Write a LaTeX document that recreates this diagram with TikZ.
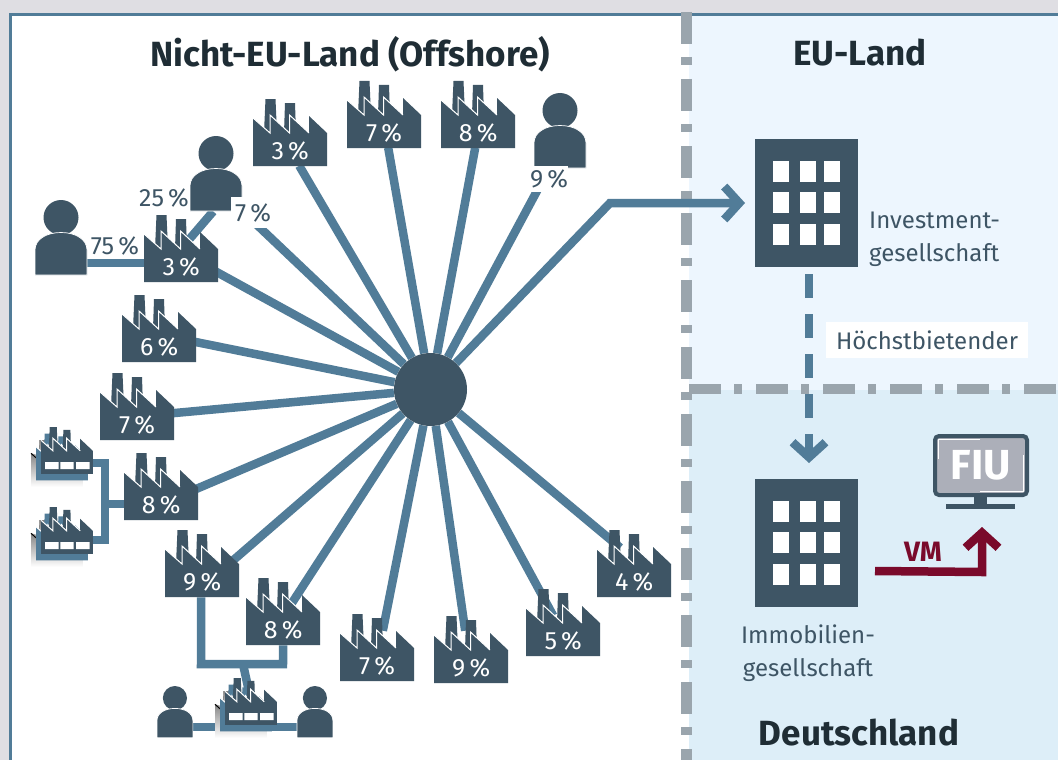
\documentclass[tikz,border=0pt]{standalone}
\usepackage{fontspec}
\setmainfont{Fira Sans}
\usetikzlibrary{arrows.meta,backgrounds}
\definecolor{dark}{HTML}{3E5565}
\definecolor{steel}{HTML}{517C98}
\definecolor{shade}{HTML}{AEB8C7}
\definecolor{maroon}{HTML}{7A0A2B}
\definecolor{border}{HTML}{9AA5AD}
\definecolor{ink}{HTML}{1F2D35}
\definecolor{eupanel}{HTML}{EDF6FE}
\definecolor{depanel}{HTML}{DDEEF8}
\definecolor{margin}{HTML}{DFDEE3}
\definecolor{screen}{HTML}{ACAFB9}
\tikzset{x=1pt, y=-1pt,
  spoke/.style={steel, line width=8.5pt},
  link/.style={steel, line width=8.5pt, line join=miter},
  sep/.style={border, line width=10.5pt, dash pattern=on 32pt off 13pt on 8pt off 14pt},
  chevron/.style={-{Straight Barb[length=15pt, width=33pt, line width=8.5pt]}},
  title/.style={font=\fontsize{35}{35}\selectfont\bfseries, text=ink},
  pct/.style={font=\fontsize{25}{25}\selectfont, text=dark, inner sep=0pt},
  note/.style={font=\fontsize{24}{33}\selectfont, text=dark, inner sep=0pt},
  plantbox/.style={anchor=north west, inner sep=0pt, minimum width=74pt, text height=60pt, text depth=7pt, text=white, font=\fontsize{25}{25}\selectfont},
}
\newcommand{\plantshape}[2]{
  \fill[#1] (12.5,0) -- (22.5,0) -- (24,34) -- (11,34) -- cycle;
  \fill[#1] (32,4) -- (42,4) -- (43,34) -- (31,34) -- cycle;
  \fill[#1] (0,19) -- (17,34) -- (17,16) -- (36.5,34) -- (36.5,16) -- (56,34) -- (56,17) -- (74,34) -- (74,67) -- (0,67) -- cycle;
  \draw[#2, line width=1pt] (0,19) -- (17,34) -- (17,16) -- (36.5,34) -- (36.5,16) -- (56,34);
}
\newcommand{\plant}[4]{
  \begin{scope}[shift={(#2,#3)}] \plantshape{dark}{white} \end{scope}
  \node[plantbox] (#1) at (#2,#3) {#4};
}
\newcommand{\smallplant}[3]{
  \begin{scope}[shift={(#2-10,#3+13)}, scale=.7] \plantshape{shade}{shade} \end{scope}
  \begin{scope}[shift={(#2-5,#3+6.5)}, scale=.7] \plantshape{steel}{white} \end{scope}
  \begin{scope}[shift={(#2,#3)}, scale=.7] \plantshape{dark}{white}
    \fill[white] (6,50) rectangle +(19,10) (27.5,50) rectangle +(19,10) (50,50) rectangle +(19.5,10);
  \end{scope}
  \node[inner sep=0pt, minimum width=52pt, minimum height=47pt, anchor=north west] (#1) at (#2,#3) {};
}
\newcommand{\person}[4]{
  \begin{scope}[shift={(#2,#3)}, scale=#4]
    \fill[dark] (26,17.5) circle (17.5);
    \fill[dark, draw=white, line width=.7pt] (0,75) -- (0,50) .. controls (0,39) and (12,32.5) .. (26,32.5) .. controls (40,32.5) and (52,39) .. (52,50) -- (52,75) -- cycle;
  \end{scope}
  \node[inner sep=0pt, minimum width=#4*52pt, minimum height=#4*75pt, anchor=north west] (#1) at (#2,#3) {};
}
\newcommand{\building}[3]{
  \node[fill=dark, inner sep=0pt, minimum width=103pt, minimum height=128pt, anchor=north west] (#1) at (#2,#3) {};
  \foreach \wx in {18,45,69} \foreach \wy in {22,53,85}
    \fill[white] (#2+\wx,#3+\wy) rectangle +(16,21);
}
\begin{document}
\begin{tikzpicture}
  \useasboundingbox (0,0) rectangle (1058,760);
  % panels
  \begin{scope}[on background layer]
    \fill[white] (0,0) rectangle (1058,760);
    \fill[eupanel] (689,15) rectangle (1058,390);
    \fill[depanel] (689,390) rectangle (1058,760);
    \fill[margin] (0,0) rectangle (1058,13);
    \fill[margin] (0,0) rectangle (9,760);
    \fill[steel] (9,13) rectangle (1058,16);
    \fill[steel] (9,13) rectangle (11.5,760);
    \draw[sep] (689,389) -- (1058,389);
    \draw[sep] (686.5,12) -- (686.5,760);
  \end{scope}
  \node[title] (offshore) at (350,54) {Nicht-EU-Land (Offshore)};
  \node[title] (eu) at (860,53) {EU-Land};
  \node[title] (de) at (859,733) {Deutschland};

  \node[circle, fill=dark, minimum size=73pt, inner sep=0pt] (hub) at (430.5,389.5) {};

  \plant{ftop}{253}{99}{3\,\%}
  \plant{fseven}{347}{81}{7\,\%}
  \plant{feight}{441}{81}{8\,\%}
  \plant{fown}{144}{215}{3\,\%}
  \plant{fsix}{122}{295}{6\,\%}
  \plant{fleft}{100}{373}{7\,\%}
  \plant{fsub}{124}{453}{8\,\%}
  \plant{fnine}{165}{530}{9\,\%}
  \plant{flow}{246}{578}{8\,\%}
  \plant{fbot}{340}{614}{7\,\%}
  \plant{fbotr}{434}{616}{9\,\%}
  \plant{ffive}{526}{589}{5\,\%}
  \plant{ffour}{597}{530}{4\,\%}
  \smallplant{sa}{41}{427}
  \smallplant{sb}{41}{507}
  \smallplant{sc}{225}{678}

  \person{pa}{35}{200}{1}
  \person{pb}{190}{136}{1}
  \person{pc}{534}{93}{1}
  \person{pd}{157}{686}{.69}
  \person{pe}{297}{686}{.69}

  \node[pct] (la) at (115,246) {75\,\%};
  \node[pct] (lb) at (164,198) {25\,\%};
  \node[pct, fill=white, minimum width=44pt, minimum height=31pt] (lc) at (253,212.5) {7\,\%};
  \node[pct, fill=white, minimum width=38pt, minimum height=26pt] (ld) at (549,179) {9\,\%};

  \building{inv}{755}{139}
  \building{imm}{755}{479}
  \node[note, anchor=west, align=left] (invtext) at (869,239) {Investment-\\gesellschaft};
  \node[note, align=center] (immtext) at (808,653) {Immobilien-\\gesellschaft};
  \node[note, fill=white, minimum width=202pt, minimum height=36pt] (hoechst) at (927,340) {Höchstbietender};

  \node[rounded corners=4pt, draw=dark, line width=4pt, fill=screen, minimum width=92pt, minimum height=59pt, inner sep=0pt, text=white, font=\fontsize{42}{42}\selectfont\bfseries] (fiu) at (981,465.5) {FIU};
  \draw[white, line width=.8pt] (938,459) -- (938,439.5) -- (980,439.5);
  \draw[white, line width=.8pt] (1023.5,455) -- (1023.5,491.5) -- (980,491.5);
  \fill[dark] (974,497) rectangle (987,505);
  \fill[dark] (946,504) rectangle (1015,509);
  \coordinate (fiutip) at (982,527);
  \node[font=\fontsize{28}{28}\selectfont\bfseries, text=maroon, inner sep=0pt] (vm) at (923,552) {VM};

  \coordinate (bend) at (610,203);
  \coordinate (invtip) at (745,203);
  \coordinate (immtip) at (809,463);
  \coordinate (vmstart) at (875,571);
  \begin{scope}[on background layer]
    \foreach \to/\sx/\sy in {ftop/9/33, fseven/4/33, feight/-3/33, pc/-7/30, pb/10/22, fown/18.5/14,
        fsix/30/12, fleft/30/7, fsub/28.5/5, fnine/23/3.5, flow/7/-6, fbot/5.6/-17, fbotr/-6/-19,
        ffive/-10/-7, ffour/-14/-16}
      \draw[spoke] (hub) -- ([shift={(\sx,\sy)}]\to.center);
    \draw[spoke, chevron, line join=miter] (hub) -- (bend) -- (invtip);
    \draw[link] (pa.east |- 0,263) -- (fown.west |- 0,263);
    \draw[link] (pb.south) ++(-3,0) -- (fown.center);
    \draw[link] (sa.east |- 0,463) -- (105,463) -- (105,540) -- (sb.east |- 0,540);
    \draw[link] (105,504) -- (fsub.west |- 0,504);
    \draw[link] (fnine.south) ++(-1,0) -- (201,664) -- (283,664) -- (flow.south);
    \draw[link] (243,664) -- (sc.center);
    \draw[link, line width=7.5pt] (pd.east |- 0,727) -- (pe.west |- 0,727);
    \draw[steel, line width=8.5pt, chevron, dash pattern=on 24pt off 16pt, dash phase=33pt] (immtip |- inv.south) -- (immtip);
    \draw[maroon, line width=8.5pt, chevron, line join=miter] (vmstart) -- (982,572) -- (fiutip);
  \end{scope}
\end{tikzpicture}
\end{document}
